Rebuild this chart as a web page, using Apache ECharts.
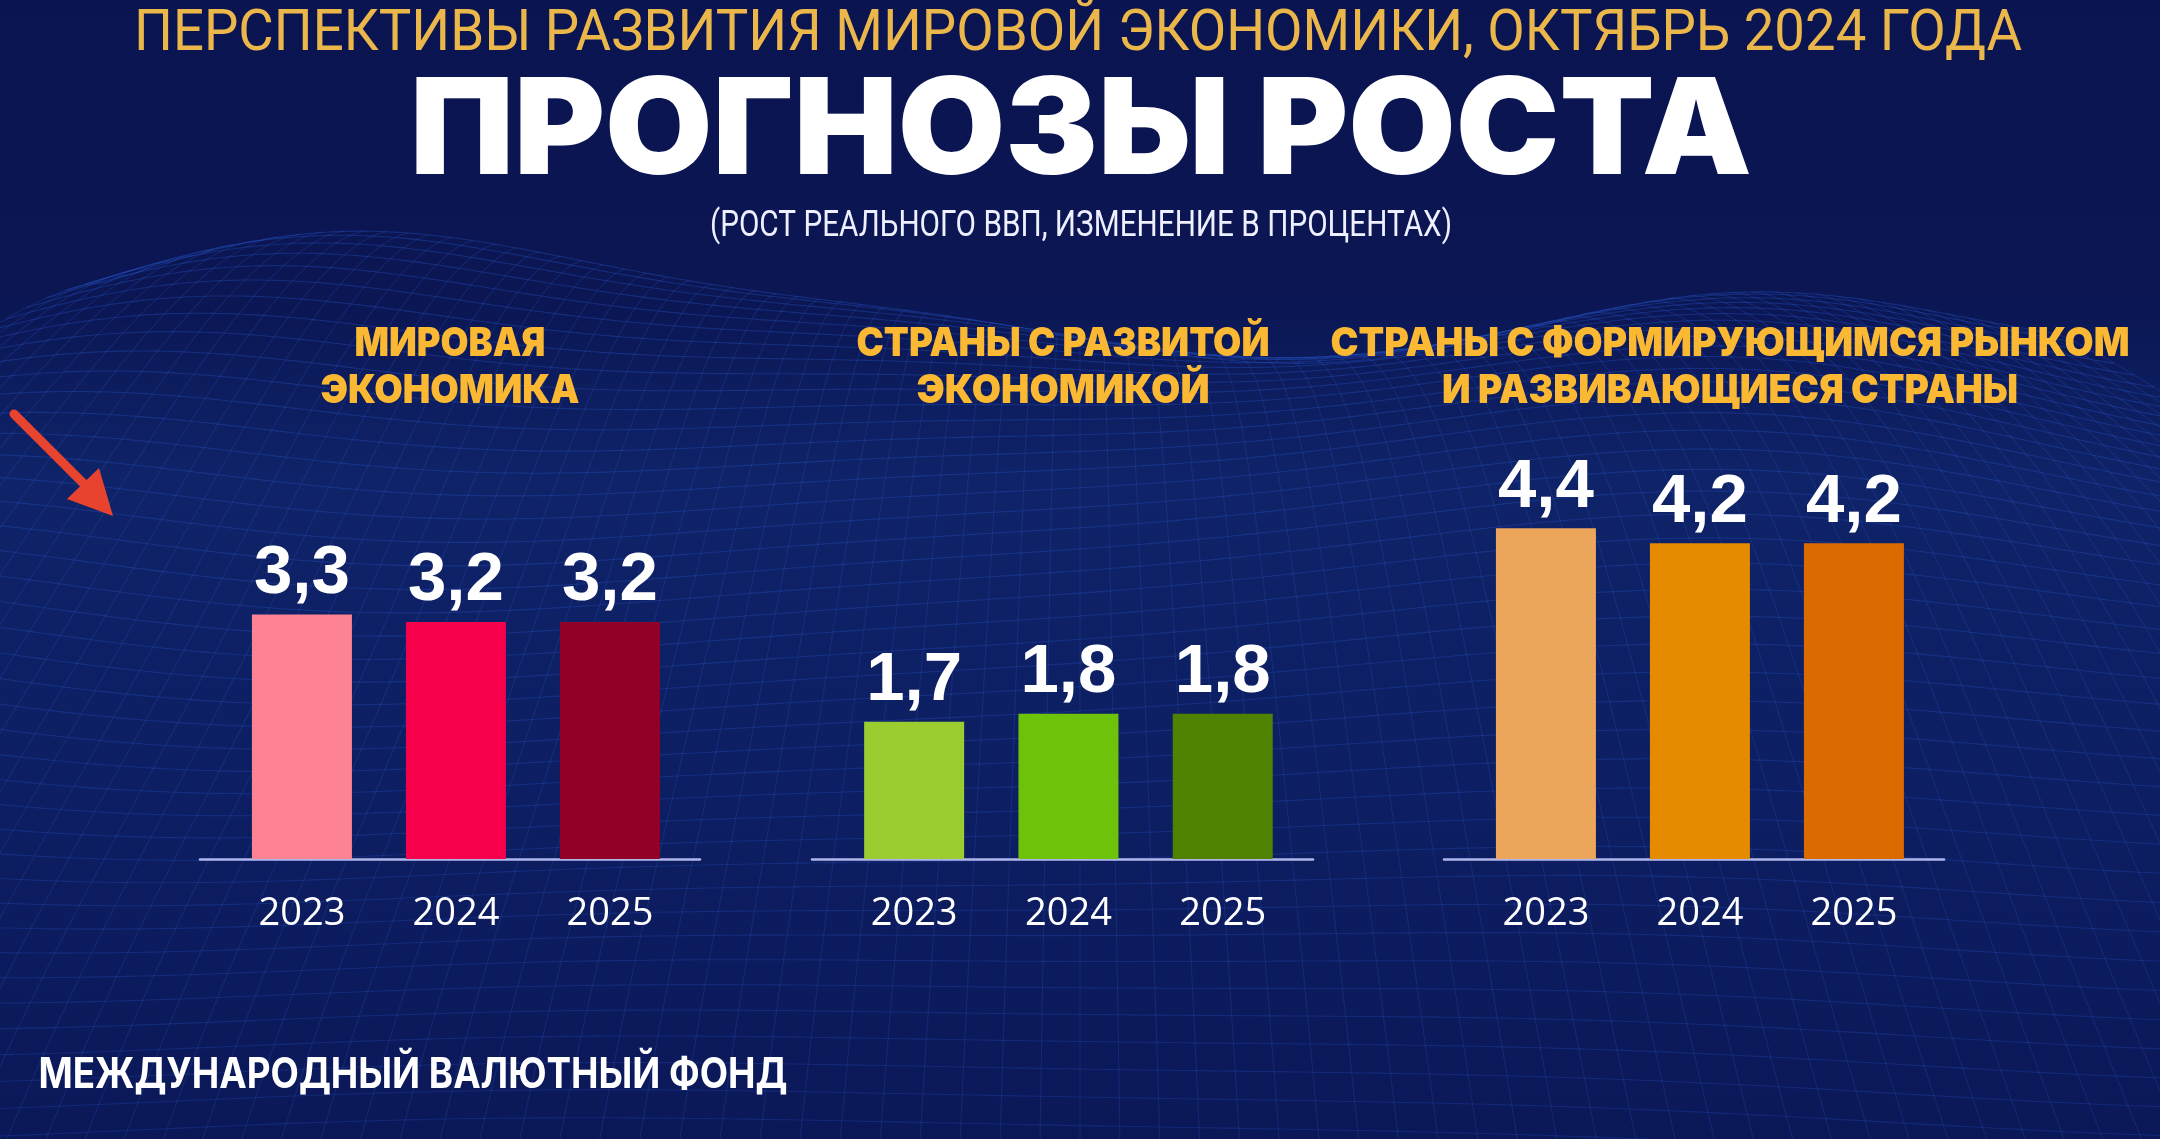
<!DOCTYPE html>
<html>
<head>
<meta charset="utf-8">
<script src="https://cdn.jsdelivr.net/npm/echarts@6/dist/echarts.min.js"></script>
<style>
html,body{margin:0;padding:0;background:#0a1450;}
#chart{width:2160px;height:1139px;}
</style>
</head>
<body>
<div id="chart"></div>
<script>
// ---------- data ----------
const years = ['2023', '2024', '2025'];
const worldValues = [3.3, 3.2, 3.2];
const advancedValues = [1.7, 1.8, 1.8];
const emergingValues = [4.4, 4.2, 4.2];
const panelTitles = [
  ['МИРОВАЯ', 'ЭКОНОМИКА'],
  ['СТРАНЫ С РАЗВИТОЙ', 'ЭКОНОМИКОЙ'],
  ['СТРАНЫ С ФОРМИРУЮЩИМСЯ РЫНКОМ', 'И РАЗВИВАЮЩИЕСЯ СТРАНЫ']
];
const topLine = 'ПЕРСПЕКТИВЫ РАЗВИТИЯ МИРОВОЙ ЭКОНОМИКИ, ОКТЯБРЬ 2024 ГОДА';
const mainTitle = 'ПРОГНОЗЫ РОСТА';
const subTitle = '(РОСТ РЕАЛЬНОГО ВВП, ИЗМЕНЕНИЕ В ПРОЦЕНТАХ)';
const sourceText = 'МЕЖДУНАРОДНЫЙ ВАЛЮТНЫЙ ФОНД';

// ---------- styles / layout ----------
const worldColors = ['#fd8292', '#f6004b', '#930027'];
const advancedColors = ['#9bcd30', '#6dc30a', '#4f8200'];
const emergingColors = ['#eba65b', '#e68a00', '#db6b00'];
const panels = [
  {values: worldValues, colors: worldColors, left: 200, width: 500, ymax: 8.22, titleX: 450, titleW: [191, 259]},
  {values: advancedValues, colors: advancedColors, left: 812, width: 501, ymax: 7.55, titleX: 1063, titleW: [413, 293]},
  {values: emergingValues, colors: emergingColors, left: 1444, width: 500, ymax: 8.1, titleX: 1730, titleW: [799, 576]}
];

const fmt = v => v.toFixed(1).replace('.', ',');

const mctx = document.createElement('canvas').getContext('2d');
function fitScale(text, weight, size, family, target) {
  mctx.font = weight + ' ' + size + 'px ' + family;
  const w = mctx.measureText(text).width;
  return w > 0 ? target / w : 1;
}
function txt(text, x, y, size, weight, family, fill, targetW, z) {
  const s = targetW ? fitScale(text, weight, size, family, targetW) : 1;
  return {
    type: 'text', x: x, y: y, scaleX: s, z: z || 10, silent: true,
    style: {
      text: text, fill: fill, fontSize: size, fontWeight: weight, fontFamily: family,
      align: 'center', verticalAlign: 'middle', textAlign: 'center', textVerticalAlign: 'middle'
    }
  };
}

// decorative wireframe background
function meshCanvas() {
  const c = document.createElement('canvas');
  c.width = 2160; c.height = 1139;
  const g = c.getContext('2d');
  const rows = 46, cols = 90;
  function P(u, v) {
    const yBase = 310 + Math.pow(v, 1.5) * 980;
    const spread = 0.75 + 0.7 * v;
    const x = 1080 + (u - 0.5) * 2600 * spread;
    const h = Math.sin(u * 9 + v * 4) * 0.6 + Math.sin(u * 4.3 - v * 7 + 1) * 0.5 + Math.sin(u * 17 + v * 3) * 0.2;
    const amp = 20 + 45 * (1 - v);
    return [x, yBase - h * amp];
  }
  g.lineWidth = 1.1;
  for (let j = 0; j <= rows; j++) {
    const v = j / rows;
    g.strokeStyle = 'rgba(45,95,215,' + (0.22 + 0.1 * (1 - v)) + ')';
    g.beginPath();
    for (let i = 0; i <= cols * 3; i++) {
      const p = P(i / (cols * 3), v);
      if (i === 0) g.moveTo(p[0], p[1]); else g.lineTo(p[0], p[1]);
    }
    g.stroke();
  }
  g.strokeStyle = 'rgba(45,95,215,0.22)';
  for (let i = 0; i <= cols; i++) {
    const u = i / cols;
    g.beginPath();
    for (let j = 0; j <= rows * 3; j++) {
      const p = P(u, j / (rows * 3));
      if (j === 0) g.moveTo(p[0], p[1]); else g.lineTo(p[0], p[1]);
    }
    g.stroke();
  }
  return c;
}

const grids = [], xAxes = [], yAxes = [], series = [];
panels.forEach((p, i) => {
  grids.push({left: p.left, width: p.width, top: 250, bottom: 280, containLabel: false});
  xAxes.push({
    gridIndex: i, type: 'value', min: -0.662, max: 2.585,
    axisLine: {show: true, onZero: false, lineStyle: {color: '#aeb6ec', width: 2.5}},
    axisTick: {show: false}, splitLine: {show: false},
    axisLabel: {
      customValues: [0, 1, 2], formatter: v => years[Math.round(v)] || '',
      color: '#ffffff', fontFamily: 'Open Sans', fontSize: 38, margin: 36
    }
  });
  yAxes.push({gridIndex: i, type: 'value', min: 0, max: p.ymax, show: false});
  series.push({
    type: 'bar', xAxisIndex: i, yAxisIndex: i, barWidth: 100,
    data: p.values.map((v, k) => ({value: [k, v], itemStyle: {color: p.colors[k]}})),
    label: {
      show: true, position: 'top', distance: 6, color: '#ffffff',
      fontFamily: 'Liberation Sans', fontWeight: 'bold', fontSize: 69,
      formatter: q => fmt(q.value[1])
    }
  });
});

const graphics = [
  {type: 'rect', z: -20, silent: true, shape: {x: 0, y: 0, width: 2160, height: 1139},
   style: {fill: new echarts.graphic.LinearGradient(0, 0, 0, 1, [
     {offset: 0, color: '#0a1450'}, {offset: 0.26, color: '#0b1653'},
     {offset: 0.42, color: '#0f2368'}, {offset: 0.7, color: '#0d1e62'}, {offset: 1, color: '#0b1858'}])}},
  {type: 'image', z: -15, silent: true, style: {image: meshCanvas(), x: 0, y: 0, width: 2160, height: 1139}},
  txt(topLine, 1078, 35, 58, 400, 'Roboto', '#ebb64a', 1888),
  txt(mainTitle, 1081, 134, 134, 900, 'Inter', '#ffffff', 1342),
  txt(subTitle, 1081, 227, 36, 400, 'Roboto', '#eef0ff', 742),
  txt(sourceText, 413, 1075, 42, 700, 'Inter', '#ffffff', 749),
  // red arrow annotation
  {type: 'line', z: 12, silent: true, shape: {x1: 14, y1: 414, x2: 90, y2: 490},
   style: {stroke: '#e8432f', lineWidth: 9, lineCap: 'round'}},
  {type: 'polygon', z: 12, silent: true, shape: {points: [[113, 516], [67, 499], [99, 468]]},
   style: {fill: '#e8432f'}}
];
panels.forEach((p, i) => {
  graphics.push(txt(panelTitles[i][0], p.titleX, 344, 40, 900, 'Inter', '#fbb833', p.titleW[0]));
  graphics.push(txt(panelTitles[i][1], p.titleX, 391, 40, 900, 'Inter', '#fbb833', p.titleW[1]));
});

const chart = echarts.init(document.getElementById('chart'), null, {renderer: 'canvas'});
chart.setOption({
  backgroundColor: '#0a1450',
  animation: false,
  grid: grids, xAxis: xAxes, yAxis: yAxes, series: series,
  graphic: {elements: graphics}
});
</script>
</body>
</html>
